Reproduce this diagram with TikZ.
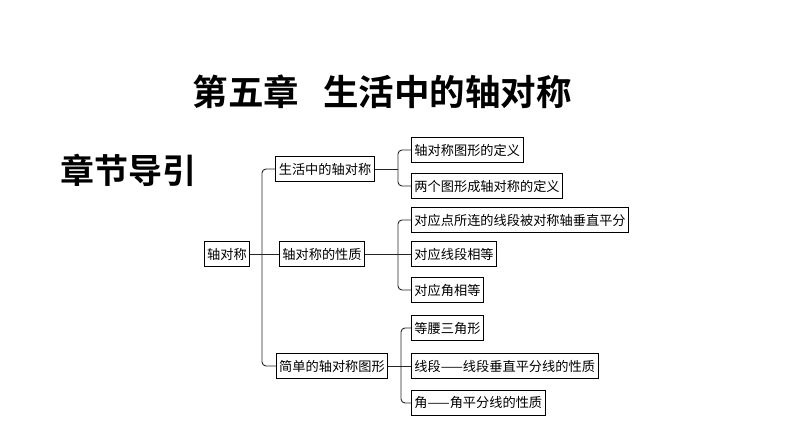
\documentclass[tikz,border=0pt]{standalone}
\usepackage{fontspec}
\newfontfamily\cjk{Noto Sans CJK SC}
\newfontfamily\cjkb{Noto Sans CJK SC Bold}
\begin{document}
\begin{tikzpicture}[x=1pt,y=-1pt,
  box/.style={draw=black,line width=0.9pt,inner xsep=3pt,inner ysep=0pt,minimum height=25pt,font=\cjk\fontsize{13.2}{13.2}\selectfont,anchor=center},
  link/.style={draw=black!85,line width=0.9pt},
  brk/.style={link,rounded corners=4pt}]
\useasboundingbox (0,0) rectangle (794,447);
\node[font=\cjkb\fontsize{35.5}{35.5}\selectfont,inner sep=0pt] (title) at (382,92) {第五章\hspace{24pt}生活中的轴对称};
\node[font=\cjkb\fontsize{34}{34}\selectfont,inner sep=0pt] (guide) at (128,170) {章节导引};

\node[box] (root) at (227,254) {轴对称};
\node[box] (a) at (325,169) {生活中的轴对称};
\node[box] (b) at (322,254) {轴对称的性质};
\node[box] (c) at (332,366) {简单的轴对称图形};

\node[box,anchor=west] (a1) at (411,150) {轴对称图形的定义};
\node[box,anchor=west] (a2) at (411,186) {两个图形成轴对称的定义};
\node[box,anchor=west] (b1) at (411,220) {对应点所连的线段被对称轴垂直平分};
\node[box,anchor=west] (b2) at (411,254) {对应线段相等};
\node[box,anchor=west] (b3) at (411,290) {对应角相等};
\node[box,anchor=west] (c1) at (411,328) {等腰三角形};
\node[box,anchor=west] (c2) at (411,366) {线段——线段垂直平分线的性质};
\node[box,anchor=west] (c3) at (411,403) {角——角平分线的性质};

% left bracket
\coordinate (L) at (262,254);
\draw[brk] (a.west) -- (a.west -| L) -- (c.west -| L) -- (c.west);
\draw[link] (root.east) -- (b.west);

% right brackets
\coordinate (R1) at (398,0);
\coordinate (R3) at (401,0);
\draw[brk] (a1.west) -- (a1.west -| R1) -- (a2.west -| R1) -- (a2.west);
\draw[link] (a.east) -- (a.east -| R1);
\draw[brk] (b1.west) -- (b1.west -| R1) -- (b3.west -| R1) -- (b3.west);
\draw[link] (b.east) -- (b2.west);
\draw[brk] (c1.west) -- (c1.west -| R3) -- (c3.west -| R3) -- (c3.west);
\draw[link] (c.east) -- (c2.west);
\end{tikzpicture}
\end{document}
